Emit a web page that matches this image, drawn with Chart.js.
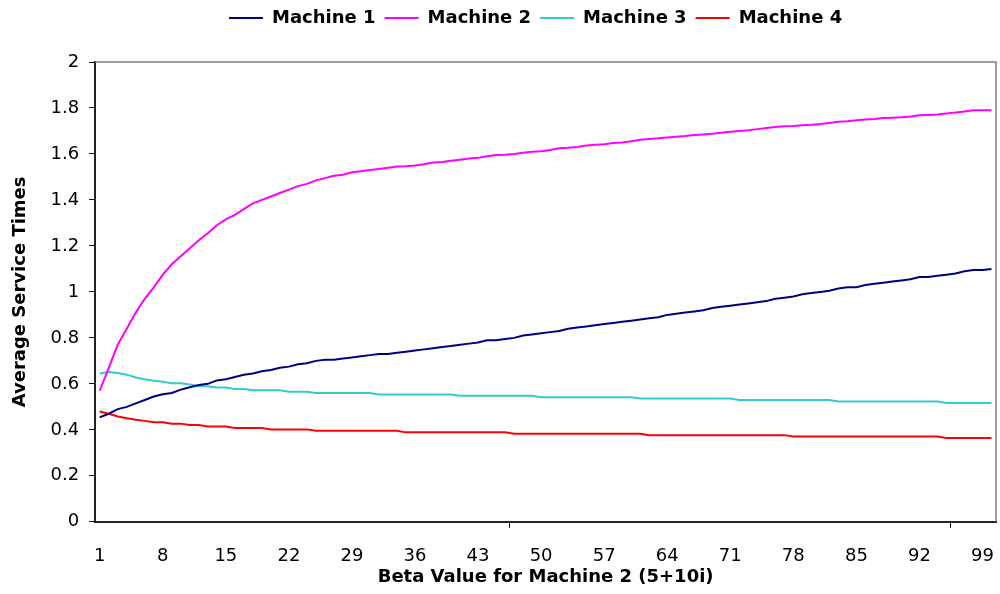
<!DOCTYPE html>
<html>
<head>
<meta charset="utf-8">
<script src="https://cdn.jsdelivr.net/npm/chart.js@4"></script>
<style>
  html, body { margin: 0; padding: 0; background: #fff; }
  #wrap { width: 1000px; height: 594px; }
</style>
</head>
<body>
<div id="wrap"><canvas id="serviceChart" width="1000" height="594"></canvas></div>
<script>
// categories: beta index 1..100
const betaIndex = Array.from({ length: 100 }, (_, i) => String(i + 1));

const machine1 = [
  0.455, 0.47, 0.49, 0.50, 0.515, 0.53, 0.545, 0.555, 0.56, 0.575,
  0.585, 0.595, 0.60, 0.615, 0.62, 0.63, 0.64, 0.645, 0.655, 0.66,
  0.67, 0.675, 0.685, 0.69, 0.70, 0.705, 0.705, 0.71, 0.715, 0.72,
  0.725, 0.73, 0.73, 0.735, 0.74, 0.745, 0.75, 0.755, 0.76, 0.765,
  0.77, 0.775, 0.78, 0.79, 0.79, 0.795, 0.80, 0.81, 0.815, 0.82,
  0.825, 0.83, 0.84, 0.845, 0.85, 0.855, 0.86, 0.865, 0.87, 0.875,
  0.88, 0.885, 0.89, 0.90, 0.905, 0.91, 0.915, 0.92, 0.93, 0.935,
  0.94, 0.945, 0.95, 0.955, 0.96, 0.97, 0.975, 0.98, 0.99, 0.995,
  1.00, 1.005, 1.015, 1.02, 1.02, 1.03, 1.035, 1.04, 1.045, 1.05,
  1.055, 1.065, 1.065, 1.07, 1.075, 1.08, 1.09, 1.095, 1.095, 1.10
];

const machine2 = [
  0.57, 0.67, 0.77, 0.84, 0.91, 0.97, 1.02, 1.075, 1.12, 1.155,
  1.19, 1.225, 1.255, 1.29, 1.315, 1.335, 1.36, 1.385, 1.40, 1.415,
  1.43, 1.445, 1.46, 1.47, 1.485, 1.495, 1.505, 1.51, 1.52, 1.525,
  1.53, 1.535, 1.54, 1.545, 1.547, 1.55, 1.555, 1.563, 1.565, 1.57,
  1.575, 1.58, 1.583, 1.59, 1.595, 1.597, 1.60, 1.605, 1.61, 1.612,
  1.617, 1.625, 1.627, 1.63, 1.637, 1.64, 1.642, 1.648, 1.65, 1.655,
  1.662, 1.665, 1.668, 1.672, 1.675, 1.678, 1.682, 1.685, 1.688, 1.692,
  1.697, 1.70, 1.703, 1.708, 1.713, 1.717, 1.72, 1.722, 1.725, 1.727,
  1.73, 1.735, 1.74, 1.742, 1.747, 1.75, 1.752, 1.756, 1.758, 1.76,
  1.763, 1.768, 1.77, 1.772, 1.776, 1.78, 1.785, 1.79, 1.79, 1.79
];

const machine3 = [
  0.645, 0.652, 0.647, 0.64, 0.628, 0.62, 0.614, 0.609, 0.603, 0.603,
  0.597, 0.59, 0.59, 0.584, 0.584, 0.578, 0.578, 0.572, 0.572, 0.572,
  0.572, 0.566, 0.566, 0.566, 0.56, 0.56, 0.56, 0.56, 0.56, 0.56,
  0.56, 0.554, 0.554, 0.554, 0.554, 0.554, 0.554, 0.554, 0.554, 0.554,
  0.548, 0.548, 0.548, 0.548, 0.548, 0.548, 0.548, 0.548, 0.548, 0.542,
  0.542, 0.542, 0.542, 0.542, 0.542, 0.542, 0.542, 0.542, 0.542, 0.542,
  0.536, 0.536, 0.536, 0.536, 0.536, 0.536, 0.536, 0.536, 0.536, 0.536,
  0.536, 0.53, 0.53, 0.53, 0.53, 0.53, 0.53, 0.53, 0.53, 0.53,
  0.53, 0.53, 0.523, 0.523, 0.523, 0.523, 0.523, 0.523, 0.523, 0.523,
  0.523, 0.523, 0.523, 0.523, 0.517, 0.517, 0.517, 0.517, 0.517, 0.517
];

const machine4 = [
  0.48, 0.47, 0.458, 0.45, 0.444, 0.439, 0.433, 0.433, 0.427, 0.427,
  0.421, 0.421, 0.415, 0.415, 0.415, 0.408, 0.408, 0.408, 0.408, 0.402,
  0.402, 0.402, 0.402, 0.402, 0.396, 0.396, 0.396, 0.396, 0.396, 0.396,
  0.396, 0.396, 0.396, 0.396, 0.389, 0.389, 0.389, 0.389, 0.389, 0.389,
  0.389, 0.389, 0.389, 0.389, 0.389, 0.389, 0.383, 0.383, 0.383, 0.383,
  0.383, 0.383, 0.383, 0.383, 0.383, 0.383, 0.383, 0.383, 0.383, 0.383,
  0.383, 0.377, 0.377, 0.377, 0.377, 0.377, 0.377, 0.377, 0.377, 0.377,
  0.377, 0.377, 0.377, 0.377, 0.377, 0.377, 0.377, 0.371, 0.371, 0.371,
  0.371, 0.371, 0.371, 0.371, 0.371, 0.371, 0.371, 0.371, 0.371, 0.371,
  0.371, 0.371, 0.371, 0.371, 0.365, 0.365, 0.365, 0.365, 0.365, 0.365
];

const seriesNames = ["Machine 1", "Machine 2", "Machine 3", "Machine 4"];
const seriesColors = ["#000080", "#FF00FF", "#33CCCC", "#FF0000"];
const yTicks = [0, 0.2, 0.4, 0.6, 0.8, 1, 1.2, 1.4, 1.6, 1.8, 2];
const labelEvery = 7;

const FONT = "'DejaVu Sans', sans-serif";

// extra space under the legend, and nudge it a bit left
const legendTweak = {
  id: "legendTweak",
  beforeInit(chart) {
    const fit = chart.legend.fit;
    chart.legend.fit = function () {
      fit.bind(chart.legend)();
      this.height += 25;
    };
  },
  afterLayout(chart) {
    chart.legend.left -= 10;
    chart.legend.right -= 10;
  }
};

// grey frame on the top and right of the plot area
const plotFrame = {
  id: "plotFrame",
  afterDraw(chart) {
    const { ctx, chartArea: a } = chart;
    ctx.save();
    ctx.strokeStyle = "#7f7f7f";
    ctx.lineWidth = 1.5;
    ctx.beginPath();
    ctx.moveTo(a.left, a.top);
    ctx.lineTo(a.right, a.top);
    ctx.lineTo(a.right, a.bottom);
    ctx.stroke();
    ctx.restore();
  }
};

const datasets = [machine1, machine2, machine3, machine4].map((vals, i) => ({
  label: seriesNames[i],
  data: vals,
  borderColor: seriesColors[i],
  backgroundColor: seriesColors[i],
  borderWidth: 2,
  pointRadius: 0,
  tension: 0,
  fill: false
}));

new Chart(document.getElementById("serviceChart"), {
  type: "line",
  data: { labels: betaIndex, datasets },
  plugins: [legendTweak, plotFrame],
  options: {
    responsive: false,
    animation: false,
    layout: { padding: { left: 10, right: 4, top: 0, bottom: 6 } },
    plugins: {
      tooltip: { enabled: false },
      legend: {
        position: "top",
        fullSize: false,
        labels: {
          usePointStyle: true,
          pointStyle: "line",
          pointStyleWidth: 34,
          padding: 9,
          color: "#000",
          font: { family: FONT, size: 18, weight: "bold" }
        }
      }
    },
    scales: {
      x: {
        type: "category",
        offset: true,
        afterFit: s => { s.paddingRight = 0; },
        grid: {
          offset: true,
          drawOnChartArea: false,
          tickLength: 6,
          tickColor: ctx => (ctx.index % labelEvery === 0 ? "#000" : "rgba(0,0,0,0)")
        },
        border: { color: "#222", width: 2 },
        ticks: {
          autoSkip: false,
          maxRotation: 0,
          padding: 18,
          color: "#000",
          font: { family: FONT, size: 18 },
          callback: (v, i) => (i % labelEvery === 0 ? betaIndex[i] : null)
        },
        title: {
          display: true,
          text: "Beta Value for Machine 2 (5+10i)",
          color: "#000",
          font: { family: FONT, size: 18, weight: "bold" },
          padding: { top: -19, bottom: 0 }
        }
      },
      y: {
        min: 0,
        max: 2,
        afterBuildTicks: axis => { axis.ticks = yTicks.map(v => ({ value: v })); },
        grid: { drawOnChartArea: false, tickLength: 6, tickColor: "#000" },
        border: { color: "#222", width: 2 },
        ticks: {
          padding: 10,
          color: "#000",
          font: { family: FONT, size: 18 },
          callback: v => String(Math.round(v * 10) / 10)
        },
        title: {
          display: true,
          text: "Average Service Times",
          color: "#000",
          font: { family: FONT, size: 18, weight: "bold" },
          padding: { top: 0, bottom: 9 }
        }
      }
    }
  }
});
</script>
</body>
</html>
